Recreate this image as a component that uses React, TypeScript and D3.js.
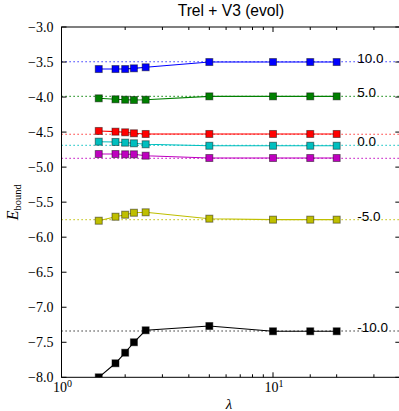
import * as d3 from 'd3';

const W = 399;
const H = 411;

// lambda values shared by all curves
const lambdas = [1.5, 1.8, 2.0, 2.2, 2.5, 5, 10, 15, 20];

const bound10 = [-3.6, -3.6, -3.6, -3.59, -3.575, -3.5, -3.5, -3.5, -3.5];
const bound5 = [-4.018, -4.032, -4.038, -4.042, -4.038, -3.99, -3.99, -3.99, -3.99];
const boundRed = [-4.484, -4.494, -4.503, -4.517, -4.527, -4.527, -4.527, -4.527, -4.527];
const bound0 = [-4.637, -4.641, -4.651, -4.66, -4.674, -4.695, -4.695, -4.695, -4.695];
const boundMag = [-4.813, -4.813, -4.817, -4.817, -4.837, -4.87, -4.87, -4.87, -4.87];
const boundM5 = [-5.765, -5.708, -5.679, -5.651, -5.645, -5.736, -5.75, -5.75, -5.75];
const boundM10 = [-8.0, -7.8, -7.649, -7.5, -7.329, -7.268, -7.343, -7.343, -7.343];

// dotted reference levels and their labels
const refLevels = [-3.495, -3.99, -4.53, -4.69, -4.875, -5.75, -7.339];
const refLabels = ['10.0', '5.0', '', '0.0', '', '-5.0', '-10.0'];
const seriesColors = ['#0000ff', '#008000', '#ff0000', '#00bfbf', '#bf00bf', '#bfbf00', '#000000'];
const seriesValues = [bound10, bound5, boundRed, bound0, boundMag, boundM5, boundM10];

const yTicks = [-3.0, -3.5, -4.0, -4.5, -5.0, -5.5, -6.0, -6.5, -7.0, -7.5, -8.0];
const xMajor = [1, 10];
const xMinor = [2, 3, 4, 5, 6, 7, 8, 9, 15, 20, 30];
const labelX = 25;

export default function App() {
  const left = 61.5;
  const top = 27;
  const bottom = 377.3;
  const x = d3.scaleLog().domain([1, 40]).range([left, left + Math.log10(40) * 211.5]);
  const y = d3.scaleLinear().domain([-3, -8]).range([top, bottom]);
  const right = x(40);

  const line = d3
    .line<number>()
    .x((_, i) => x(lambdas[i]))
    .y((d) => y(d));

  const ms = 7;
  const serif = '"Liberation Serif", "Times New Roman", serif';
  const sans = '"Liberation Sans", Arial, sans-serif';

  return (
    <svg
      width={W}
      height={H}
      style={{ position: 'fixed', left: 0, top: 0, background: '#fff' }}
    >
      <defs>
        <clipPath id="plot">
          <rect x={left} y={top} width={right - left} height={bottom - top} />
        </clipPath>
      </defs>
      <rect width={W} height={H} fill="#fff" />

      <g clipPath="url(#plot)">
        {refLevels.map((v, i) => (
          <line
            key={'ref' + i}
            x1={left}
            x2={right}
            y1={y(v)}
            y2={y(v)}
            stroke={seriesColors[i]}
            strokeWidth={1.1}
            strokeDasharray="1.2,2.8"
          />
        ))}
        {seriesValues.map((vals, i) => (
          <g key={'s' + i}>
            <path d={line(vals) || ''} fill="none" stroke={seriesColors[i]} strokeWidth={1.1} />
            {vals.map((v, j) => (
              <rect
                key={j}
                x={x(lambdas[j]) - ms / 2}
                y={y(v) - ms / 2}
                width={ms}
                height={ms}
                fill={seriesColors[i]}
                stroke="#000"
                strokeOpacity={0.45}
                strokeWidth={1}
              />
            ))}
          </g>
        ))}
      </g>

      {refLevels.map((v, i) =>
        refLabels[i] ? (
          <text key={'lab' + i} x={x(labelX)} y={y(v) + 1} fontFamily={sans} fontSize={13.5} fill="#000">
            {refLabels[i]}
          </text>
        ) : null
      )}

      {/* frame */}
      <rect x={left} y={top} width={right - left} height={bottom - top} fill="none" stroke="#000" strokeWidth={1} />

      {/* y ticks */}
      {yTicks.map((t) => (
        <g key={'yt' + t}>
          <line x1={left} x2={left + 5} y1={y(t)} y2={y(t)} stroke="#000" />
          <line x1={right} x2={right - 5} y1={y(t)} y2={y(t)} stroke="#000" />
          <text
            x={left - 8}
            y={y(t)}
            textAnchor="end"
            dominantBaseline="central"
            fontFamily={serif}
            fontSize={14}
            fill="#000"
          >
            {'\u2212' + Math.abs(t).toFixed(1)}
          </text>
        </g>
      ))}

      {/* x ticks */}
      {xMajor.map((t) => (
        <g key={'xm' + t}>
          <line x1={x(t)} x2={x(t)} y1={bottom} y2={bottom - 5} stroke="#000" />
          <line x1={x(t)} x2={x(t)} y1={top} y2={top + 5} stroke="#000" />
          <text x={x(t) + 1} y={392} textAnchor="middle" fontFamily={serif} fontSize={14} fill="#000">
            10
            <tspan fontSize={10} dy={-5}>
              {Math.round(Math.log10(t))}
            </tspan>
          </text>
        </g>
      ))}
      {xMinor.map((t) => (
        <g key={'xn' + t}>
          <line x1={x(t)} x2={x(t)} y1={bottom} y2={bottom - 3} stroke="#000" />
          <line x1={x(t)} x2={x(t)} y1={top} y2={top + 3} stroke="#000" />
        </g>
      ))}

      {/* axis labels and title */}
      <text x={229} y={409} textAnchor="middle" fontFamily={serif} fontStyle="italic" fontSize={15} fill="#000">
        λ
      </text>
      <text
        transform={`translate(17.5, ${(top + bottom) / 2}) rotate(-90)`}
        textAnchor="middle"
        fontFamily={serif}
        fontSize={16}
        fill="#000"
      >
        <tspan fontStyle="italic">E</tspan>
        <tspan fontSize={10.5} dy={3}>
          bound
        </tspan>
      </text>
      <text x={(left + right) / 2} y={16} textAnchor="middle" fontFamily={sans} fontSize={15.6} fill="#000">
        Trel + V3 (evol)
      </text>
    </svg>
  );
}
